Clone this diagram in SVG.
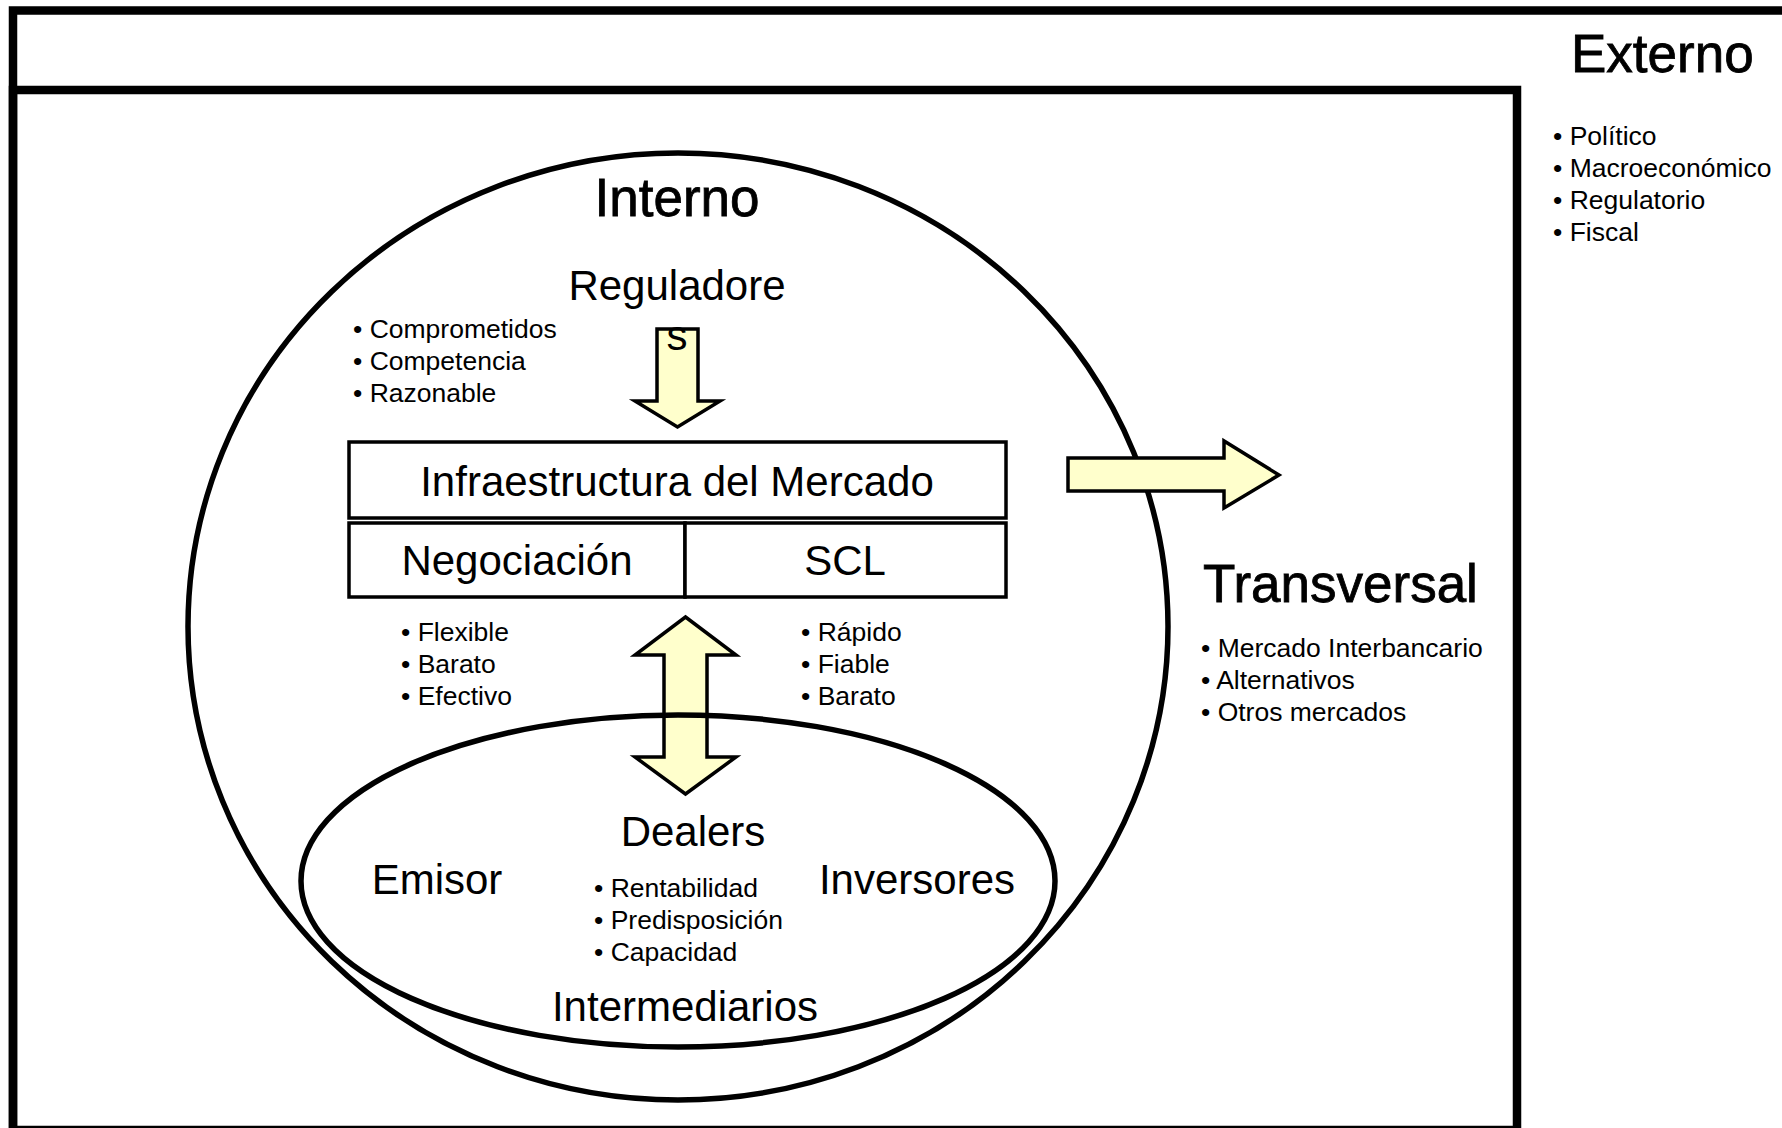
<svg xmlns="http://www.w3.org/2000/svg" width="1782" height="1128" viewBox="0 0 1782 1128">
<defs>
<style>
text{font-family:"Liberation Sans",Arial,Helvetica,sans-serif;fill:#000}
.frame{fill:none;stroke:#000;stroke-width:8.5}
.ring{fill:none;stroke:#000;stroke-width:5.5}
.box{fill:#fff;stroke:#000;stroke-width:3.5}
.arrow{fill:#FFFFCC;stroke:#000;stroke-width:3.5;stroke-linejoin:miter}
.h1{font-size:53px;stroke:#000;stroke-width:0.8}
.h2{font-size:42px}
.b{font-size:26.5px}
.c{text-anchor:middle}
</style>
</defs>
<rect width="1782" height="1128" fill="#fff"/>

<g id="externo">
<rect class="frame" x="13" y="10.5" width="1800" height="1200"/>
<text class="h1" x="1571" y="72">Externo</text>
<text class="b" x="1553" y="145">• Político</text>
<text class="b" x="1553" y="177">• Macroeconómico</text>
<text class="b" x="1553" y="209">• Regulatorio</text>
<text class="b" x="1553" y="241">• Fiscal</text>
</g>

<g id="transversal">
<rect class="frame" x="13" y="90" width="1504" height="1040"/>
<text class="h1" x="1203" y="602">Transversal</text>
<text class="b" x="1201" y="657">• Mercado Interbancario</text>
<text class="b" x="1201" y="689">• Alternativos</text>
<text class="b" x="1201" y="721">• Otros mercados</text>
</g>

<g id="interno">
<ellipse class="ring" cx="678" cy="626.5" rx="490" ry="473.5"/>
<text class="h1 c" x="677" y="216">Interno</text>
</g>

<g id="reguladores">
<text class="h2 c" x="677" y="300">Reguladore</text>
<text class="b" x="353" y="338">• Comprometidos</text>
<text class="b" x="353" y="370">• Competencia</text>
<text class="b" x="353" y="402">• Razonable</text>
</g>

<g id="infraestructura">
<rect class="box" x="349" y="442" width="657" height="76"/>
<text class="h2 c" x="677" y="496">Infraestructura del Mercado</text>
</g>

<g id="negociacion">
<rect class="box" x="349" y="523" width="336" height="74"/>
<text class="h2 c" x="517" y="575">Negociación</text>
<text class="b" x="401" y="641">• Flexible</text>
<text class="b" x="401" y="673">• Barato</text>
<text class="b" x="401" y="705">• Efectivo</text>
</g>

<g id="scl">
<rect class="box" x="685" y="523" width="321" height="74"/>
<text class="h2 c" x="845" y="575">SCL</text>
<text class="b" x="801" y="641">• Rápido</text>
<text class="b" x="801" y="673">• Fiable</text>
<text class="b" x="801" y="705">• Barato</text>
</g>

<g id="connectors">
<path class="arrow" d="M657,329 L698,329 L698,401 L720,401 L677.5,427 L635,401 L657,401 Z"/>
<text class="h2 c" x="677" y="350">s</text>
<path class="arrow" d="M685.5,617 L736,655 L707,655 L707,757 L736,757 L685.5,794 L635,757 L664,757 L664,655 L635,655 Z"/>
<path class="arrow" d="M1068,458 L1224,458 L1224,441 L1279,475 L1224,508 L1224,491 L1068,491 Z"/>
</g>

<g id="intermediarios">
<ellipse class="ring" cx="678" cy="881" rx="377" ry="166"/>
<text class="h2 c" x="693" y="846">Dealers</text>
<text class="h2 c" x="437" y="894">Emisor</text>
<text class="h2 c" x="917" y="894">Inversores</text>
<text class="b" x="594" y="897">• Rentabilidad</text>
<text class="b" x="594" y="929">• Predisposición</text>
<text class="b" x="594" y="961">• Capacidad</text>
<text class="h2 c" x="685" y="1021">Intermediarios</text>
</g>
</svg>
